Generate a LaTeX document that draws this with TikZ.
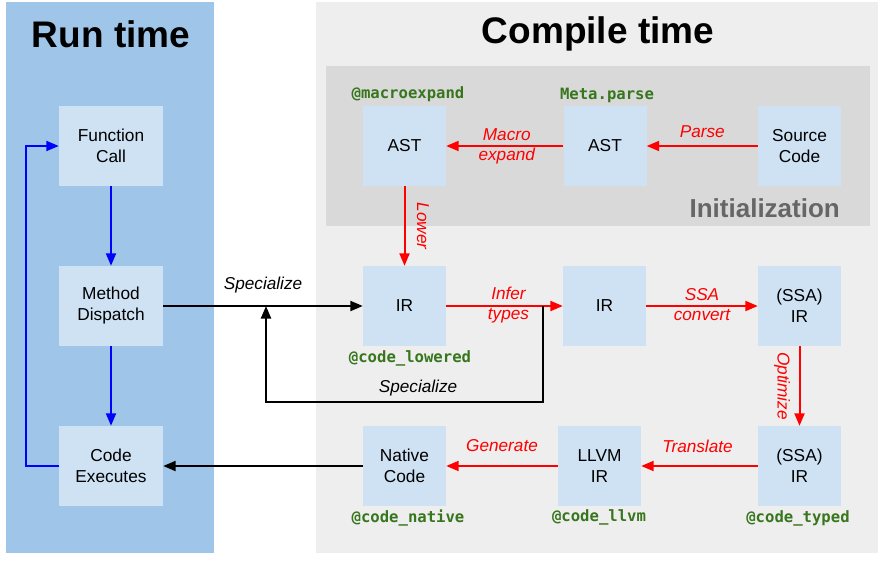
\documentclass[tikz,border=0pt]{standalone}
\usepackage{fontspec}
\setmainfont{Liberation Sans}
\newfontfamily\codefont{DejaVu Sans Mono}
\usetikzlibrary{arrows.meta}
\definecolor{runbg}{HTML}{9FC5E8}
\definecolor{compbg}{HTML}{EEEEEE}
\definecolor{initbg}{HTML}{D9D9D9}
\definecolor{boxfill}{HTML}{CFE2F3}
\definecolor{codegreen}{HTML}{38761D}
\definecolor{initgray}{HTML}{666666}
\definecolor{arrred}{HTML}{FF0000}
\definecolor{arrblue}{HTML}{0000FF}
\begin{document}
\begin{tikzpicture}[x=1pt,y=-1pt,
  box/.style={fill=boxfill, minimum width=83pt, minimum height=80pt, inner sep=0pt, align=center, font=\fontsize{17.3}{21}\selectfont},
  rbox/.style={box, minimum width=104pt},
  title/.style={font=\bfseries\fontsize{37}{40}\selectfont},
  code/.style={font=\codefont\bfseries\fontsize{15.6}{18}\selectfont, text=codegreen, inner sep=0pt},
  lab/.style={font=\itshape\fontsize{17.2}{20}\selectfont, align=center, inner sep=0pt},
  tip/.style={-{Triangle[length=12.5pt,width=10pt]}},
  redarr/.style={tip, draw=arrred, line width=2pt},
  bluearr/.style={tip, draw=arrblue, line width=2pt},
  blackarr/.style={tip, draw=black, line width=2pt},
  redlab/.style={lab, text=arrred},
]
\useasboundingbox (0,0) rectangle (882,562);
\fill[runbg] (6,2) rectangle (214,553);
\fill[compbg] (316,2) rectangle (878,553);
\fill[initbg] (326,66) rectangle (870,226);

\node[title] (rt) at (111,34) {Run time};
\node[title] (ct) at (598,34) {Compile time};
\node[font=\bfseries\fontsize{26}{30}\selectfont, text=initgray, anchor=base east, inner sep=0pt] (init) at (840,217) {Initialization};

% run time boxes
\node[rbox] (fc) at (111,146) {Function\\Call};
\node[rbox] (md) at (111,306) {Method\\Dispatch};
\node[rbox] (ce) at (111,466) {Code\\Executes};

% compile time boxes
\node[box] (ast1) at (404.5,146) {AST};
\node[box] (ast2) at (605,146) {AST};
\node[box] (src) at (799.5,146) {Source\\Code};
\node[box] (ir1) at (404.5,306) {IR};
\node[box] (ir2) at (604.5,306) {IR};
\node[box] (ssa1) at (799.5,306) {(SSA)\\IR};
\node[box] (nat) at (404.5,466) {Native\\Code};
\node[box] (llvm) at (599.5,466) {LLVM\\IR};
\node[box] (ssa2) at (799.5,466) {(SSA)\\IR};

% code labels
\node[code] (cm) at (408,94) {@macroexpand};
\node[code] (cp) at (607,95) {Meta.parse};
\node[code] (cl) at (410,358) {@code\_lowered};
\node[code] (cn) at (408,518) {@code\_native};
\node[code] (cv) at (599,517) {@code\_llvm};
\node[code] (ct2) at (798,518) {@code\_typed};

% red compile arrows
\draw[redarr] (src) -- (ast2) node[redlab, midway, yshift=14pt] {Parse};
\draw[redarr] (ast2) -- (ast1) node[redlab, midway, xshift=2pt, yshift=-0.5pt] {Macro\\expand};
\draw[redarr] (ast1) -- (ir1) node[redlab, midway, xshift=18.5pt, rotate=-90] {Lower};
\draw[redarr] (ir1) -- (ir2) node[redlab, midway, xshift=4pt, yshift=1pt] {Infer\\types};
\draw[redarr] (ir2) -- (ssa1) node[redlab, midway, yshift=1pt] {SSA\\convert};
\draw[redarr] (ssa1) -- (ssa2) node[redlab, midway, xshift=-17.5pt, rotate=-90] {Optimize};
\draw[redarr] (ssa2) -- (llvm) node[redlab, midway, xshift=-2pt, yshift=20pt] {Translate};
\draw[redarr] (llvm) -- (nat) node[redlab, midway, yshift=20pt] {Generate};

% blue run-time arrows
\draw[bluearr] (fc) -- (md);
\draw[bluearr] (md) -- (ce);
\draw[bluearr] (ce.west) -- ++(-33,0) |- (fc.west);

% black arrows
\draw[blackarr] (md) -- (ir1) node[lab, midway, yshift=20.5pt] (sp1) {Specialize};
\coordinate (spa) at (543,306);
\coordinate (spb) at (266,306);
\draw[blackarr] (spa) -- ++(0,96) -| (spb);
\node[lab] (sp2) at (418,388) {Specialize};
\draw[blackarr] (nat) -- (ce);
\end{tikzpicture}
\end{document}
